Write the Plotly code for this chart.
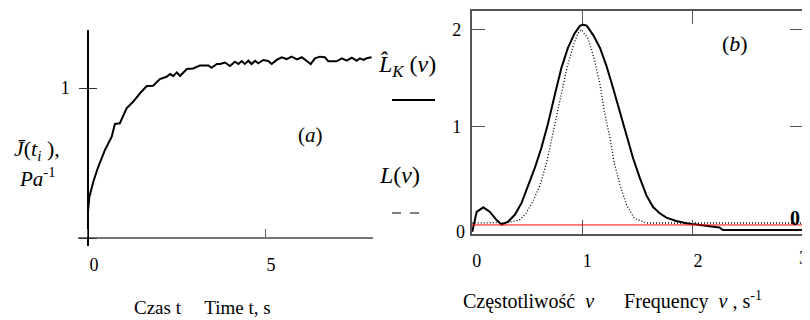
import plotly.graph_objects as go

# ---- Panel (a): creep compliance J(t_i) ----
t_vals = [0.0, 0.04, 0.15, 0.29, 0.48, 0.67, 0.76, 0.90, 1.09, 1.28, 1.47, 1.66, 1.84,
          2.03, 2.22, 2.32, 2.41, 2.51, 2.60, 2.79, 2.97, 3.16, 3.40, 3.49, 3.64, 3.73,
          3.87, 4.01, 4.15, 4.25, 4.34, 4.43, 4.53, 4.62, 4.72, 4.81, 4.95, 5.09, 5.19,
          5.33, 5.47, 5.61, 5.75, 5.90, 6.04, 6.16, 6.29, 6.41, 6.55, 6.69, 6.79, 7.02,
          7.17, 7.31, 7.45, 7.59, 7.68, 7.78, 7.87, 8.01]
J_vals = [0.175, 0.275, 0.375, 0.475, 0.587, 0.675, 0.76, 0.765, 0.865, 0.91, 0.965, 1.013,
          1.015, 1.06, 1.075, 1.093, 1.08, 1.104, 1.08, 1.127, 1.13, 1.15, 1.15, 1.135, 1.16,
          1.16, 1.17, 1.147, 1.175, 1.16, 1.18, 1.16, 1.182, 1.16, 1.182, 1.165, 1.187, 1.18,
          1.16, 1.187, 1.205, 1.193, 1.209, 1.191, 1.205, 1.182, 1.16, 1.198, 1.209, 1.205,
          1.178, 1.178, 1.198, 1.182, 1.202, 1.182, 1.198, 1.187, 1.198, 1.205]

# ---- Panel (b): spectra ----
nu_K = [0.005, 0.045, 0.105, 0.165, 0.225, 0.27, 0.33, 0.39, 0.45, 0.51, 0.57, 0.63, 0.69,
        0.75, 0.81, 0.87, 0.93, 0.98, 1.01, 1.04, 1.10, 1.16, 1.22, 1.28, 1.34, 1.40, 1.46,
        1.52, 1.58, 1.64, 1.70, 1.76, 1.85, 1.94, 2.02, 2.11, 2.24, 2.27, 3.0]
LK_vals = [-0.085, 0.12, 0.167, 0.12, 0.036, -0.01, 0.02, 0.09, 0.21, 0.38, 0.57, 0.78, 1.03,
           1.32, 1.60, 1.81, 1.96, 2.04, 2.05, 2.04, 1.94, 1.81, 1.62, 1.39, 1.15, 0.91, 0.67,
           0.47, 0.29, 0.17, 0.105, 0.06, 0.026, 0.002, -0.01, -0.026, -0.04, -0.067, -0.067]

nu_L = [0.0, 0.33, 0.43, 0.49, 0.55, 0.62, 0.68, 0.74, 0.80, 0.86, 0.92, 0.96, 0.99, 1.05,
        1.11, 1.16, 1.20, 1.25, 1.29, 1.34, 1.40, 1.47, 1.58, 3.0]
L_vals = [0.005, 0.01, 0.035, 0.105, 0.22, 0.40, 0.64, 0.95, 1.29, 1.60, 1.84, 1.96, 2.0,
          1.91, 1.69, 1.43, 1.15, 0.88, 0.62, 0.40, 0.19, 0.054, 0.005, 0.005]

nu_ticks = [0, 1, 2, 3]
marker_value = -0.015

SERIF = "Liberation Serif, Times New Roman, Times, serif"
OFF = 8                     # page body margin
W, H = 810 - OFF, 320 - OFF

def px(x):
    return (x - OFF) / W

def py(y):
    return 1 - (y - OFF) / H

fig = go.Figure()

fig.add_trace(go.Scatter(x=t_vals, y=J_vals, mode="lines",
                         line=dict(color="black", width=2), xaxis="x", yaxis="y",
                         hoverinfo="skip"))
fig.add_trace(go.Scatter(x=[None], y=[None], xaxis="x", yaxis="y3", hoverinfo="skip"))
fig.add_trace(go.Scatter(x=[None], y=[None], xaxis="x", yaxis="y4", hoverinfo="skip"))
fig.add_trace(go.Scatter(x=nu_L, y=L_vals, mode="lines",
                         line=dict(color="black", width=1.3, dash="1px,2px"),
                         xaxis="x2", yaxis="y2", hoverinfo="skip"))
fig.add_trace(go.Scatter(x=nu_K, y=LK_vals, mode="lines",
                         line=dict(color="black", width=2), xaxis="x2", yaxis="y2",
                         hoverinfo="skip"))

tickfont = dict(family=SERIF, size=18, color="black")

fig.update_layout(
    width=W, height=H, margin=dict(l=0, r=0, t=0, b=0),
    font=dict(family=SERIF, size=18, color="black"),
    paper_bgcolor="white", plot_bgcolor="white", showlegend=False,
    xaxis=dict(domain=[px(78), px(373)], range=[-0.282, 8.05], anchor="free",
               position=py(238), showline=True, linecolor="#777", linewidth=1.5,
               showgrid=False, zeroline=False, ticks="inside", ticklen=8,
               tickcolor="#555", tickwidth=1.2, tickvals=[0, 5], ticktext=["0", "5"],
               tickfont=tickfont, ticklabelstandoff=11, ticklabelshift=6),
    yaxis=dict(domain=[py(246), py(30)], range=[-0.0533, 1.3867], anchor="free",
               position=px(88), showline=True, linecolor="black", linewidth=1.5,
               showgrid=False, zeroline=False, ticks="inside", ticklen=8,
               tickcolor="#333", tickwidth=1.2, tickvals=[1],
               tickfont=tickfont, ticklabelstandoff=14),
    yaxis3=dict(overlaying="y", range=[-0.0533, 1.3867], anchor="free", position=px(88),
                showline=False, showgrid=False, zeroline=False, ticks="outside",
                ticklen=9, tickcolor="#333", tickwidth=1.2, tickvals=[0, 1],
                showticklabels=False),
    yaxis4=dict(overlaying="y", range=[-0.0533, 1.3867], anchor="free", position=px(88),
                showline=False, showgrid=False, zeroline=False, ticks="inside",
                ticklen=8, tickcolor="#333", tickwidth=1.2, tickvals=[0],
                showticklabels=False),
    xaxis2=dict(domain=[px(471.7), px(803.5)], range=[0, 3], anchor="y2",
                showline=True, mirror="ticks", linecolor="#555", linewidth=1.5,
                showgrid=False, zeroline=False, ticks="inside", ticklen=14,
                tickcolor="#555", tickwidth=1.2, tickvals=nu_ticks[:-1],
                tickfont=tickfont, ticklabelstandoff=10, ticklabelshift=5),
    yaxis2=dict(domain=[py(233.5), py(10.7)], range=[-0.103, 2.194], anchor="x2",
                showline=True, mirror="ticks", linecolor="#555", linewidth=1.5,
                showgrid=False, zeroline=False, ticks="inside", ticklen=14,
                tickcolor="#555", tickwidth=1.2, tickvals=[1, 2],
                tickfont=tickfont, ticklabelstandoff=5),
)

# last frequency tick label at the right edge of the frame
fig.add_annotation(text=str(nu_ticks[-1]), x=nu_ticks[-1], xref="x2", xshift=0,
                   y=py(258), yref="paper", showarrow=False, xanchor="center",
                   yanchor="middle", font=tickfont)

# marker line at value 0 in panel (b)
fig.add_shape(type="line", xref="x2 domain", yref="y2", x0=0, x1=1,
              y0=marker_value, y1=marker_value, line=dict(color="red", width=1))

# legend samples
fig.add_shape(type="line", xref="paper", yref="paper", x0=px(392), x1=px(435),
              y0=py(100), y1=py(100), line=dict(color="black", width=2))
fig.add_shape(type="line", xref="paper", yref="paper", x0=px(392), x1=px(425),
              y0=py(213), y1=py(213), line=dict(color="black", width=1, dash="dash"))

def ann(text, x, y, size=19, xanchor="center", yanchor="middle"):
    fig.add_annotation(text=text, x=px(x), y=py(y), xref="paper", yref="paper",
                       showarrow=False, xanchor=xanchor, yanchor=yanchor,
                       font=dict(family=SERIF, size=size, color="black"))

ann("(<i>a</i>)", 310, 135, size=21)
ann("(<i>b</i>)", 735, 43, size=22)
ann("<i>L\u0302</i><sub><i>K</i></sub>&nbsp;(<i>\u03bd</i>)", 376, 66, size=24, xanchor="left")
ann("<i>L</i>(<i>\u03bd</i>)", 377, 175, size=24, xanchor="left")
ann("<i>J\u0304</i>(<i>t<sub>i</sub></i> ),", 12, 150, size=22, xanchor="left")
ann("<i>Pa</i><sup>-1</sup>", 17, 177, size=21, xanchor="left")
ann("Czas t&nbsp;&nbsp;&nbsp;&nbsp; Time t, s", 202, 307, size=19)
ann("Częstotliwość&nbsp; <i>\u03bd</i>&nbsp;&nbsp;&nbsp;&nbsp;&nbsp; Frequency&nbsp; <i>\u03bd</i> , s<sup>-1</sup>",
    612, 300, size=20)
ann("0", 460, 232, size=18)
ann("<b>0</b>", 795, 218, size=20)

fig.write_html("out.html")
